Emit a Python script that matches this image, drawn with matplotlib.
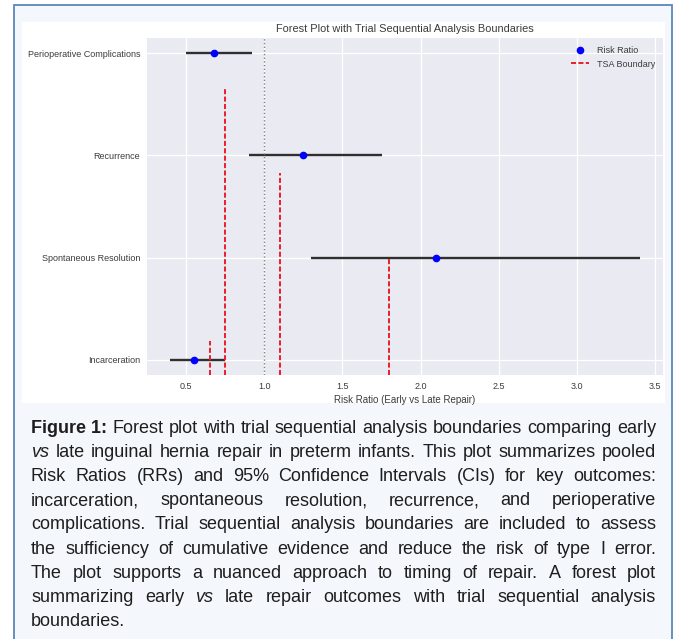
import matplotlib
matplotlib.use("Agg")
import matplotlib.pyplot as plt
from matplotlib.patches import Rectangle

# Pooled risk ratios (early vs late repair) with 95% CIs and TSA boundaries
outcomes = ["Incarceration", "Spontaneous Resolution", "Recurrence",
            "Perioperative Complications"]
risk_ratio = [0.55, 2.1, 1.25, 0.68]
ci_lower = [0.4, 1.3, 0.9, 0.5]
ci_upper = [0.75, 3.4, 1.75, 0.92]
tsa_boundary = [0.65, 1.8, 1.1, 0.75]

title = "Forest Plot with Trial Sequential Analysis Boundaries"
x_label = "Risk Ratio (Early vs Late Repair)"

# Caption, one entry per printed line: (text, style) segments
caption_lines = [
    [("Figure 1:", "bold"),
     ("Forest plot with trial sequential analysis boundaries comparing early", "normal")],
    [("vs", "italic"),
     ("late inguinal hernia repair in preterm infants. This plot summarizes pooled", "normal")],
    [("Risk Ratios (RRs) and 95% Confidence Intervals (CIs) for key outcomes:", "normal")],
    [("incarceration, spontaneous resolution, recurrence, and perioperative", "normal")],
    [("complications. Trial sequential analysis boundaries are included to assess", "normal")],
    [("the sufficiency of cumulative evidence and reduce the risk of type I error.", "normal")],
    [("The plot supports a nuanced approach to timing of repair. A forest plot", "normal")],
    [("summarizing early", "normal"), ("vs", "italic"),
     ("late repair outcomes with trial sequential analysis", "normal")],
    [("boundaries.", "normal")],
]

W, H = 680, 639
FONT = ["Liberation Sans", "DejaVu Sans"]
plt.rcParams["font.family"] = FONT


def fx(x):
    return x / W


def fy(y):
    return 1 - y / H


fig = plt.figure(figsize=(W / 100, H / 100), dpi=100)
fig.patch.set_facecolor("white")

# Light blue caption box with border, and white panel for the chart
fig.patches.append(Rectangle((fx(14), fy(660)), fx(672) - fx(14), fy(5) - fy(660),
                             transform=fig.transFigure, facecolor="#f4f8fc",
                             edgecolor="#5b86bc", linewidth=1.3, zorder=-3))
fig.patches.append(Rectangle((fx(22), fy(403)), fx(665) - fx(22), fy(22) - fy(403),
                             transform=fig.transFigure, facecolor="white",
                             edgecolor="none", zorder=-2))

# Forest plot axes
ax = fig.add_axes([fx(147), fy(375), fx(663) - fx(147), fy(38) - fy(375)])
ax.set_facecolor("#eaeaf2")
for spine in ax.spines.values():
    spine.set_visible(False)
ax.grid(True, color="white", linewidth=0.9)
ax.set_axisbelow(True)

y_pos = list(range(len(outcomes)))
ax.hlines(y_pos, ci_lower, ci_upper, color="#2f2f2f", linewidth=1.7)
ax.plot(risk_ratio, y_pos, "o", color="blue", markersize=4.5, label="Risk Ratio",
        zorder=3)

for i, boundary in enumerate(tsa_boundary):
    ax.axvline(boundary, ymin=0, ymax=(i + 0.4) / len(outcomes), color="#e8202a",
               linestyle=(0, (2.6, 1.2)), linewidth=1.4,
               label="TSA Boundary" if i == 0 else None)

ax.axvline(1.0, color="gray", linestyle=":", linewidth=1.0)

ax.set_yticks(y_pos)
ax.set_yticklabels(outcomes)
ax.set_xticks([0.5, 1.0, 1.5, 2.0, 2.5, 3.0, 3.5])
ax.tick_params(axis="both", length=0, labelsize=6.5, labelcolor="#3c3c3c", pad=5)
ax.set_xlabel(x_label, fontsize=7, color="#3c3c3c", labelpad=3)
ax.set_title(title, fontsize=7.9, color="#3c3c3c", pad=4)
ax.legend(loc="upper right", fontsize=6.5, frameon=False, labelcolor="#3c3c3c")

# Justified caption text
fig.canvas.draw()
renderer = fig.canvas.get_renderer()
text_left, text_right = 31, 656
base0, line_step = 433, 24.1
cap_size = 13.0

for i, line in enumerate(caption_lines):
    tokens = []
    for seg, style in line:
        if style == "normal":
            tokens += [(w, style) for w in seg.split()]
        else:
            tokens.append((seg, style))

    artists = []
    for word, style in tokens:
        t = fig.text(0, 0, word, fontsize=cap_size, color="#1e1e1e",
                     fontweight="bold" if style == "bold" else "normal",
                     fontstyle="italic" if style == "italic" else "normal",
                     ha="left", va="baseline")
        artists.append(t)
    widths = [t.get_window_extent(renderer).width for t in artists]

    if i < len(caption_lines) - 1 and len(artists) > 1:
        gap = (text_right - text_left - sum(widths)) / (len(artists) - 1)
    else:
        gap = 4
    x = text_left
    y = base0 + i * line_step
    for t, w in zip(artists, widths):
        t.set_position((fx(x), fy(y)))
        x += w + gap

fig.savefig("out.png", dpi=100)
